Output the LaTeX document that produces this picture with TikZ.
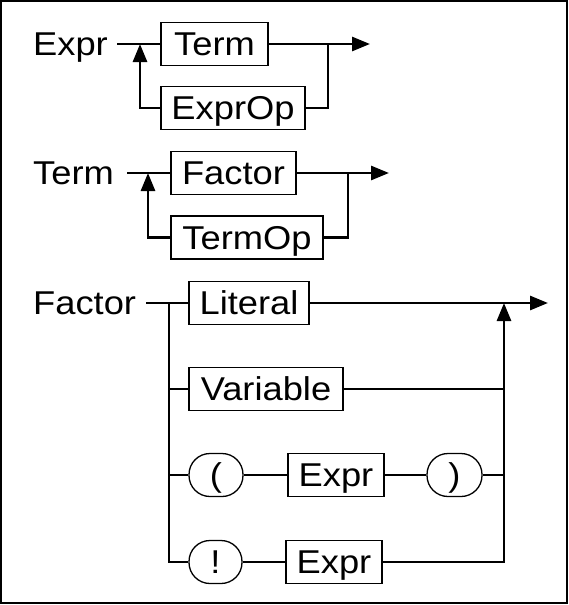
\documentclass[tikz,border=0pt]{standalone}
\usepackage{fontspec}
\setmainfont[FakeStretch=1.1]{Liberation Sans}
\usetikzlibrary{arrows.meta}

\begin{document}
\begin{tikzpicture}[x=1pt, y=-1pt,
		every node/.style={font=\fontsize{33}{38}\selectfont, inner sep=0pt, text height=23.5pt, text depth=0pt},
		rulebox/.style={draw, line width=1.3pt, minimum height=43pt},
		tokbox/.style={draw, line width=1.3pt, minimum height=43pt, rounded corners=21pt},
		wire/.style={line width=2.8pt},
		flow/.style={line width=2.8pt, -{Triangle[length=18pt,width=14pt]}}]
			\useasboundingbox (0,0) rectangle (569,605);
			\draw[line width=2pt] (1,1) rectangle (567,603);		% frame
			
			% drawing expr rule
			\node[anchor=west] (exprLbl) at (33,44) {Expr};
			\node[rulebox, minimum width=107pt] (eTerm) at (214.5,44) {Term};
			\node[rulebox, minimum width=144pt] (eOp) at (233,108) {ExprOp};
			\coordinate (eIn) at (117,44);
			\coordinate (eBack) at (140,44);
			\coordinate (eJoin) at (328,44);
			\coordinate (eOut) at (370,44);
			\draw[wire] (eIn) -- (eTerm);
			\draw[flow] (eTerm) -- (eOut);
			\draw[wire] (eJoin) |- (eOp);
			\draw[flow] (eOp) -| (eBack);
			
			% drawing term rule
			\node[anchor=west] (termLbl) at (33,173) {Term};
			\node[rulebox, minimum width=125pt] (tFactor) at (233.5,173) {Factor};
			\node[rulebox, minimum width=152pt] (tOp) at (247,237.5) {TermOp};
			\coordinate (tIn) at (127,173);
			\coordinate (tBack) at (148,173);
			\coordinate (tJoin) at (348,173);
			\coordinate (tOut) at (389,173);
			\draw[wire] (tIn) -- (tFactor);
			\draw[flow] (tFactor) -- (tOut);
			\draw[wire] (tJoin) |- (tOp);
			\draw[flow] (tOp) -| (tBack);
			
			% drawing factor rule
			\node[anchor=west] (factorLbl) at (33,303) {Factor};
			\node[rulebox, minimum width=120pt] (literal) at (249,303) {Literal};
			\node[rulebox, minimum width=154pt] (variable) at (266,389) {Variable};
			\node[tokbox, minimum width=54pt] (lpar) at (216,475) {(};
			\node[rulebox, minimum width=96pt] (fExpr) at (336,475) {Expr};
			\node[tokbox, minimum width=55pt] (rpar) at (454.5,475) {)};
			\node[tokbox, minimum width=53pt] (bang) at (215.5,562) {!};
			\node[rulebox, minimum width=96pt] (nExpr) at (334,562) {Expr};
			\coordinate (fIn) at (146,303);
			\coordinate (fSplit) at (169,303);
			\coordinate (fJoin) at (504,303);
			\coordinate (fOut) at (548,303);
			
			\draw[wire] (fIn) -- (literal);
			\draw[flow] (literal) -- (fOut);
			\draw[wire] (fSplit) |- (bang);
			\foreach \b in {variable, lpar}{
				\draw[wire] (fSplit |- \b) -- (\b);
			}
			\draw[wire] (lpar) -- (fExpr);
			\draw[wire] (fExpr) -- (rpar);
			\draw[wire] (bang) -- (nExpr);
			\foreach \b in {variable, rpar}{
				\draw[wire] (\b) -- (fJoin |- \b);
			}
			\draw[flow] (nExpr) -| (fJoin);
			
		\end{tikzpicture}
\end{document}
